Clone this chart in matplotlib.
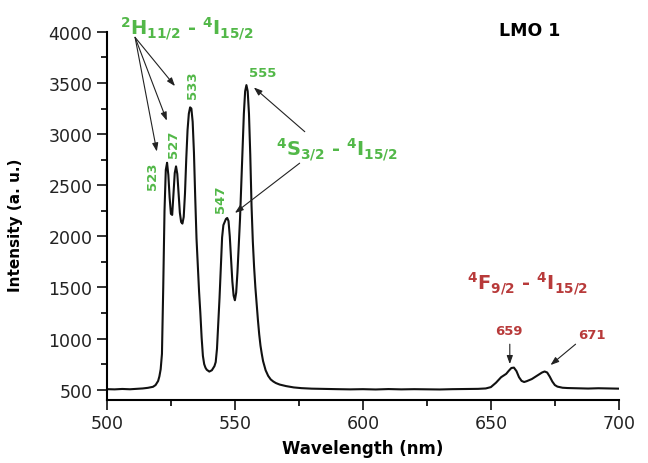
import matplotlib
matplotlib.use("Agg")
import matplotlib.pyplot as plt
from matplotlib.ticker import MultipleLocator

# emission spectrum (nm, a.u.), ten points per row
wavelength = [500, 503, 506, 509, 512, 514, 516, 518, 519, 520,
              520.5, 521, 521.5, 522, 522.5, 523, 523.5, 524, 524.5, 525,
              525.5, 526, 526.5, 527, 527.5, 528, 528.5, 529, 529.5, 530,
              530.5, 531, 531.5, 532, 532.5, 533, 533.5, 534, 534.5, 535,
              535.5, 536, 536.5, 537, 537.5, 538, 538.5, 539, 540, 541,
              542, 542.5, 543, 543.5, 544, 544.5, 545, 545.5, 546, 546.5,
              547, 547.5, 548, 548.5, 549, 549.5, 550, 550.5, 551, 551.5,
              552, 552.5, 553, 553.5, 554, 554.5, 555, 555.5, 556, 556.5,
              557, 557.5, 558, 558.5, 559, 559.5, 560, 560.5, 561, 562,
              563, 564, 565, 566, 567.5, 570, 573, 576, 580, 585,
              590, 595, 600, 605, 610, 615, 620, 625, 630, 635,
              640, 645, 648, 650, 652, 654, 656, 657, 658, 659,
              660, 661, 662, 663, 664, 666, 668, 670, 671, 672,
              673, 674, 675, 676, 678, 680, 684, 688, 692, 696, 700]
intensity = [505, 503, 507, 504, 509, 512, 518, 528, 545, 585,
             630, 700, 850, 1500, 2250, 2650, 2720, 2600, 2380, 2220,
             2210, 2420, 2620, 2685, 2610, 2420, 2230, 2140, 2125, 2190,
             2420, 2760, 3040, 3200, 3262, 3250, 3120, 2820, 2380, 1980,
             1710, 1460, 1250, 1010, 830, 750, 715, 695, 677, 690,
             730, 770, 900, 1140, 1400, 1700, 1990, 2110, 2140, 2170,
             2180, 2150, 2000, 1780, 1560, 1420, 1375, 1450, 1650, 1900,
             2170, 2520, 2870, 3200, 3420, 3480, 3420, 3200, 2800, 2300,
             1950, 1700, 1500, 1340, 1180, 1040, 930, 850, 780, 690,
             635, 600, 580, 565, 550, 535, 522, 515, 510, 507,
             505, 503, 505, 502, 506, 503, 505, 504, 502, 505,
             506, 508, 512, 525, 568, 622, 655, 685, 712, 716,
             682, 622, 586, 575, 583, 604, 636, 668, 678, 668,
             628, 580, 545, 530, 519, 516, 513, 511, 514, 512, 510]

green = "#52b848"
red = "#b83a3a"

fig = plt.figure(figsize=(6.48, 4.64), dpi=100)
ax = fig.add_axes([0.165, 0.136, 0.79, 0.793])

ax.plot(wavelength, intensity, color="#111111", lw=1.5)

ax.set_xlim(500, 700)
ax.set_ylim(400, 4000)
ax.xaxis.set_major_locator(MultipleLocator(50))
ax.xaxis.set_minor_locator(MultipleLocator(25))
ax.yaxis.set_major_locator(MultipleLocator(500))
ax.yaxis.set_minor_locator(MultipleLocator(250))
ax.tick_params(which="major", direction="out", length=7, width=1.3, labelsize=12.5,
               colors="#222222")
ax.tick_params(which="minor", direction="out", length=4, width=1.2)
for s in ["top", "right"]:
    ax.spines[s].set_visible(False)
for s in ["left", "bottom"]:
    ax.spines[s].set_linewidth(1.5)

ax.set_xlabel("Wavelength (nm)", fontsize=12, fontweight="bold", labelpad=5)
ax.set_ylabel("Intensity (a. u.)", fontsize=11, fontweight="bold")
ax.yaxis.set_label_coords(-0.163, 0.478)

ax.text(665, 4016, "LMO 1", fontsize=12.5, fontweight="bold", ha="center", va="center")

# green transition labels
ax.text(531, 4040, r"$\mathbf{{}^{2}H_{11/2}}$ - $\mathbf{{}^{4}I_{15/2}}$",
        color=green, fontsize=14, ha="center", va="center", fontweight="bold")
ax.text(590, 2860, r"$\mathbf{{}^{4}S_{3/2}}$ - $\mathbf{{}^{4}I_{15/2}}$",
        color=green, fontsize=14, ha="center", va="center", fontweight="bold")
peak_labels = [("523", 517.8, 2602, 90), ("527", 526.2, 2910, 90),
               ("533", 533.4, 3489, 90), ("547", 544.4, 2373, 90),
               ("555", 561.0, 3600, 0)]
for s, x, y, rot in peak_labels:
    ax.text(x, y, s, color=green, fontsize=9.5, fontweight="bold", rotation=rot,
            ha="center", va="center")

# red transition labels
ax.text(664.5, 1550, r"$\mathbf{{}^{4}F_{9/2}}$ - $\mathbf{{}^{4}I_{15/2}}$",
        color=red, fontsize=14, ha="center", va="center", fontweight="bold")
ax.text(657.1, 1077, "659", color=red, fontsize=9.5, fontweight="bold",
        ha="center", va="center")
ax.text(689.4, 1043, "671", color=red, fontsize=9.5, fontweight="bold",
        ha="center", va="center")

arrow = dict(arrowstyle="-|>,head_length=0.5,head_width=0.18", color="#222222",
             lw=0.8, shrinkA=0, shrinkB=0)
arrows = [((511.0, 3947), (519.5, 2830)),
          ((511.0, 3947), (523.4, 3132)),
          ((511.0, 3947), (526.6, 3470)),
          ((577.3, 3024), (557.4, 3457)),
          ((575.3, 2716), (550.0, 2229)),
          ((657.4, 945), (657.4, 750)),
          ((683.1, 945), (673.3, 741))]
for start, end in arrows:
    ax.annotate("", xy=end, xytext=start, arrowprops=arrow, annotation_clip=False)

fig.savefig("out.png", dpi=100)
